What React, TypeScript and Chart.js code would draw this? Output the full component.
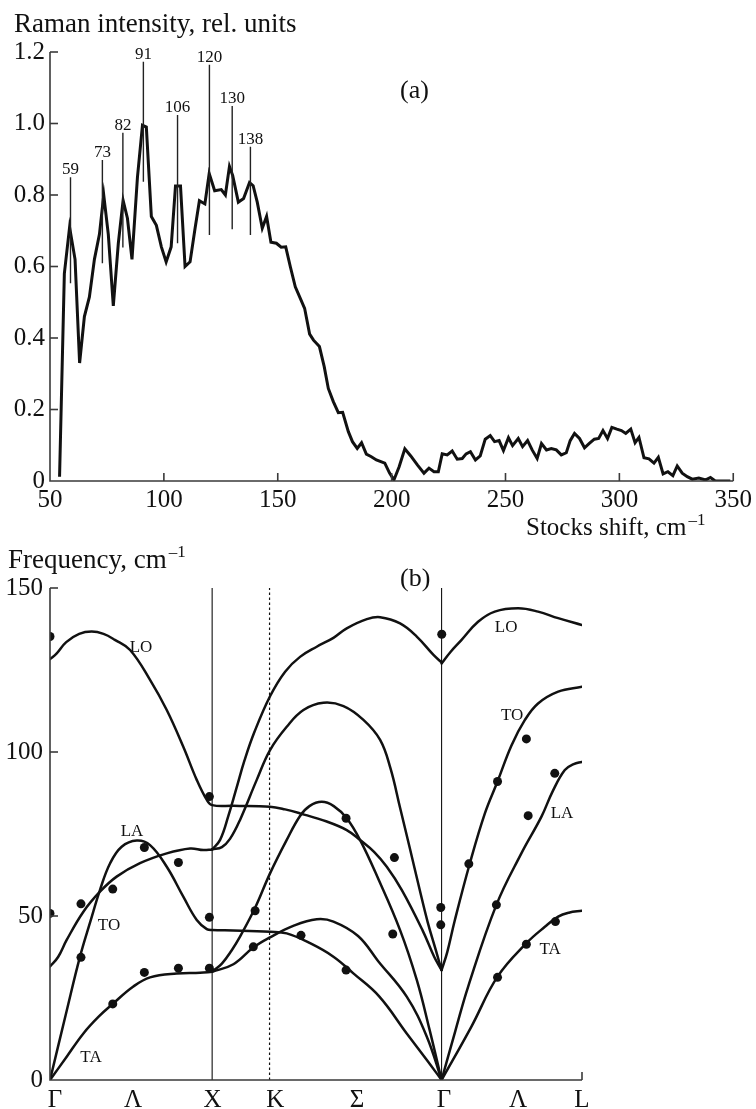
import React, { useEffect, useRef } from "react";
import { Chart, registerables } from "chart.js";
Chart.register(...registerables);

const FONT = "'Liberation Serif', 'Times New Roman', serif";
const INK = "#111";
const AXIS = "#3a3a3a";

// ---------- (a) Raman spectrum ----------
const ramanShift = [
  54.2, 56.3, 58.6, 61.0, 63.0, 65.1, 67.3, 69.5, 71.7, 73.6, 75.6, 77.8, 80.0, 82.1, 84.0, 86.0, 88.4, 90.6,
  92.3, 94.5, 96.7, 98.9, 101.0, 103.2, 105.1, 107.3, 109.3, 111.5, 113.7, 115.6, 118.0, 119.9, 122.3, 125.2,
  127.0, 128.8, 130.2, 132.7, 135.0, 137.6, 139.2, 141.0, 143.2, 145.1, 147.0, 149.4, 151.5, 153.5, 155.5,
  157.7, 159.9, 161.8, 164.0, 165.7, 168.3, 170.4, 172.2, 174.4, 176.6, 178.5, 181.0, 182.8, 184.9, 186.8,
  188.9, 191.1, 193.3, 197.0, 199.1, 201.0, 203.3, 205.8, 208.4, 211.3, 214.2, 216.4, 218.6, 220.5, 222.2,
  224.4, 226.6, 228.8, 231.0, 232.7, 234.6, 236.8, 238.9, 241.1, 243.3, 245.2, 247.2, 249.1, 251.3, 253.1,
  255.6, 257.5, 259.7, 261.7, 263.9, 265.8, 268.0, 270.1, 272.3, 274.5, 276.7, 278.4, 280.3, 282.5, 284.7,
  286.8, 289.0, 290.9, 292.8, 294.8, 296.7, 298.9, 300.9, 302.8, 305.0, 306.9, 308.6, 310.8, 313.0, 315.2,
  317.1, 319.2, 321.3, 323.5, 325.4, 327.6, 329.8, 332.0, 334.9, 337.9, 340.0, 342.1, 348.7,
];
const ramanIntensity = [
  0.012, 0.58, 0.71, 0.62, 0.33, 0.46, 0.515, 0.62, 0.69, 0.8, 0.69, 0.49, 0.665, 0.785, 0.735, 0.62, 0.85, 0.995,
  0.99, 0.74, 0.715, 0.655, 0.613, 0.655, 0.825, 0.825, 0.6, 0.613, 0.707, 0.784, 0.775, 0.86, 0.812, 0.815,
  0.8, 0.88, 0.855, 0.78, 0.79, 0.835, 0.826, 0.78, 0.707, 0.74, 0.668, 0.665, 0.654, 0.655, 0.6,
  0.543, 0.511, 0.483, 0.411, 0.394, 0.376, 0.32, 0.259, 0.222, 0.191, 0.192, 0.138, 0.11, 0.091, 0.107,
  0.075, 0.068, 0.059, 0.05, 0.022, 0.003, 0.04, 0.09, 0.07, 0.045, 0.022, 0.036, 0.026, 0.026, 0.076,
  0.073, 0.084, 0.061, 0.063, 0.076, 0.082, 0.059, 0.07, 0.117, 0.127, 0.11, 0.113, 0.085, 0.121, 0.099,
  0.119, 0.096, 0.113, 0.087, 0.063, 0.105, 0.087, 0.091, 0.087, 0.073, 0.079, 0.113, 0.133, 0.119, 0.093,
  0.105, 0.117, 0.119, 0.141, 0.119, 0.15, 0.145, 0.141, 0.133, 0.145, 0.107, 0.122, 0.065, 0.062, 0.05,
  0.066, 0.02, 0.026, 0.015, 0.042, 0.022, 0.012, 0.005, 0.008, 0.003, 0.01, 0.0, 0.0,
];
const peakShifts = [59, 73, 82, 91, 106, 120, 130, 138];
const peakLineTop = [0.85, 0.898, 0.974, 1.173, 1.024, 1.164, 1.049, 0.935];
const peakLineBottom = [0.553, 0.609, 0.653, 0.837, 0.665, 0.688, 0.704, 0.688];
const shiftTicks = [50, 100, 150, 200, 250, 300, 350];
const intensityTicks = [0, 0.2, 0.4, 0.6, 0.8, 1.0, 1.2];

// ---------- (b) phonon dispersion ----------
const symLinePositions = [1, 1.354, 2.415]; // X, K, Γ
const symLineDashed = [false, true, false];
const symTickPositions = [0.03, 0.512, 1.003, 1.39, 1.894, 2.43, 2.887, 3.281];
const symTickLabels = ["Γ", "Λ", "X", "K", "Σ", "Γ", "Λ", "L"];
const freqTicks = [0, 50, 100, 150];
const pathEnd = 3.281;

// Γ–X–K–Γ–L branches, [reduced wave vector, frequency cm-1]
const branchLoFlat = [
  [0, 128.3], [0.04, 130], [0.1, 133.5], [0.18, 136], [0.257, 136.7], [0.33, 136], [0.4, 134.2], [0.494, 131.1],
  [0.617, 122], [0.72, 112.8], [0.822, 101.6], [0.905, 91.5], [0.967, 85.4], [1, 83.8], [1.131, 83.6],
  [1.357, 83.3], [1.45, 82.5], [1.542, 81.3], [1.707, 78.8], [1.83, 76.2], [1.912, 73.2], [2.0, 69.5],
  [2.077, 65], [2.17, 57.9], [2.297, 45.7], [2.37, 37.5], [2.415, 33.5],
];
const branchToGX = [
  [0, 34.6], [0.05, 37.5], [0.103, 42.7], [0.206, 51.3], [0.308, 57.4], [0.411, 62], [0.555, 66.1],
  [0.72, 69.1], [0.864, 70.6], [0.946, 70.1], [1, 70.3],
];
const branchLaFlat = [
  [0, 0], [0.1, 20.5], [0.185, 37.6], [0.25, 48.5], [0.308, 57.9], [0.37, 66], [0.442, 71.1], [0.535, 73],
  [0.617, 71.6], [0.72, 65], [0.822, 55.9], [0.905, 48.8], [0.967, 46], [1, 45.7], [1.131, 45.6], [1.357, 45.2],
  [1.46, 44.7], [1.604, 41.7], [1.748, 37.6], [1.871, 32.5], [2.03, 25.5], [2.2, 14.2], [2.324, 6.1], [2.415, 0],
];
const branchTaGX = [
  [0, 0], [0.103, 7.1], [0.206, 14.2], [0.3, 19.3], [0.387, 23.2], [0.514, 28.5], [0.617, 31.3], [0.781, 32.5],
  [0.925, 32.7], [1, 33],
];
const branchLoXG = [
  [1, 70.3], [1.049, 73.2], [1.1, 80.5], [1.15, 89], [1.2, 97.5], [1.26, 106], [1.357, 117], [1.45, 124.5],
  [1.542, 129], [1.645, 132.1], [1.748, 134.8], [1.83, 137.7], [1.954, 140.5], [2.036, 141.1], [2.159, 139.2],
  [2.262, 135.2], [2.365, 129.6], [2.415, 127.3],
];
const branchToXG = [
  [1, 70.3], [1.06, 71], [1.11, 73.5], [1.172, 79.3], [1.275, 91.5], [1.357, 100.6], [1.46, 107.7],
  [1.563, 112.8], [1.686, 115], [1.81, 114], [1.933, 109.8], [2.036, 103.7], [2.1, 95], [2.159, 83],
  [2.22, 70.5], [2.28, 58], [2.33, 48], [2.38, 39.5], [2.415, 33.5],
];
const branchLaXG = [
  [1, 33], [1.06, 35.5], [1.12, 39.5], [1.172, 43.7], [1.265, 52.5], [1.357, 63], [1.46, 73.2], [1.542, 80.5],
  [1.6, 83.5], [1.676, 84.8], [1.75, 83.5], [1.83, 79.8], [1.912, 73.2], [2.023, 61.5], [2.159, 45.7],
  [2.262, 30.5], [2.34, 15.5], [2.415, 0],
];
const branchTaXG = [
  [1, 33], [1.131, 35.3], [1.254, 40.4], [1.357, 43.5], [1.5, 47], [1.645, 49], [1.748, 48.3], [1.9, 43.9],
  [2.023, 36.3], [2.2, 25.4], [2.324, 13.2], [2.415, 0],
];
const branchLoGL = [
  [2.415, 127], [2.47, 130.5], [2.537, 134.1], [2.64, 139.7], [2.743, 142.8], [2.887, 143.8], [3.01, 142.8],
  [3.134, 140.8], [3.281, 138.7],
];
const branchToGL = [
  [2.415, 33.5], [2.45, 39], [2.497, 48.8], [2.589, 66], [2.682, 81.3], [2.76, 91], [2.846, 102], [2.928, 109.7],
  [3.01, 114.8], [3.134, 118.4], [3.281, 119.9],
];
const branchLaGL = [
  [2.415, 0], [2.5, 15], [2.579, 28.5], [2.753, 53.4], [2.907, 69.1], [3.031, 80.3], [3.1, 88], [3.175, 94.5],
  [3.23, 96.3], [3.281, 97],
];
const branchTaGL = [
  [2.415, 0], [2.599, 16.3], [2.76, 31.5], [2.938, 41.7], [3.052, 46.7], [3.134, 49.8], [3.2, 51], [3.281, 51.6],
];
const experimentK = [
  0, 0, 0.191, 0.191, 0.387, 0.387, 0.582, 0.582, 0.792, 0.792, 0.983, 0.983, 0.983, 1.265, 1.254, 1.548,
  1.826, 1.826, 2.124, 2.114, 2.416, 2.41, 2.41, 2.583, 2.76, 2.938, 2.949, 3.113, 2.753, 2.938, 2.76, 3.117,
];
const experimentFreq = [
  135.2, 50.8, 53.7, 37.4, 58.2, 23.2, 70.9, 32.8, 66.3, 34.1, 86.4, 49.6, 34.1, 51.6, 40.6, 44.1,
  79.8, 33.5, 67.8, 44.5, 135.9, 52.6, 47.3, 65.9, 91, 104, 80.6, 93.5, 53.4, 41.4, 31.3, 48.3,
];
const branchLabelText = ["LO", "LA", "TO", "TA", "LO", "TO", "LA", "TA"];
const branchLabelK = [0.561, 0.506, 0.364, 0.253, 2.813, 2.85, 3.158, 3.085];
const branchLabelFreq = [131.7, 75.9, 47, 6.7, 137.8, 111, 81.1, 39.9];

const toPts = (a: number[][]) => a.map(([x, y]) => ({ x, y }));

function drawSup(ctx: CanvasRenderingContext2D, main: string, sup: string, x: number, y: number, size: number, supSize: number) {
  ctx.font = `${size}px ${FONT}`;
  ctx.textAlign = "left";
  ctx.textBaseline = "alphabetic";
  ctx.fillText(main, x, y);
  const w = ctx.measureText(main).width;
  ctx.font = `${supSize}px ${FONT}`;
  ctx.fillText(sup, x + w + 2, y - size * 0.42);
}

function line(ctx: CanvasRenderingContext2D, x0: number, y0: number, x1: number, y1: number) {
  ctx.beginPath();
  ctx.moveTo(x0, y0);
  ctx.lineTo(x1, y1);
  ctx.stroke();
}

export default function App() {
  const topRef = useRef<HTMLCanvasElement>(null);
  const botRef = useRef<HTMLCanvasElement>(null);

  useEffect(() => {
    Chart.defaults.font.family = FONT;
    Chart.defaults.color = INK;

    const spectrum = ramanShift.map((x, i) => ({ x, y: ramanIntensity[i] }));
    const markerSets = peakShifts.map((p, i) => ({
      type: "line" as const,
      data: [{ x: p, y: peakLineBottom[i] }, { x: p, y: peakLineTop[i] }],
      borderColor: "#222",
      borderWidth: 1.4,
      pointRadius: 0,
      tension: 0,
    }));

    const topOverlay = {
      id: "topOverlay",
      afterDraw(chart: any) {
        const ctx: CanvasRenderingContext2D = chart.ctx;
        const xs = chart.scales.x, ys = chart.scales.y;
        ctx.save();
        ctx.strokeStyle = AXIS;
        ctx.lineWidth = 1.6;
        const x0 = xs.getPixelForValue(shiftTicks[0]);
        const x1 = xs.getPixelForValue(shiftTicks[shiftTicks.length - 1]);
        const y0 = ys.getPixelForValue(intensityTicks[0]);
        const y1 = ys.getPixelForValue(intensityTicks[intensityTicks.length - 1]);
        ctx.beginPath();
        ctx.moveTo(x0, y1);
        ctx.lineTo(x0, y0);
        ctx.lineTo(x1, y0);
        ctx.stroke();
        intensityTicks.slice(1).forEach((v) => {
          const y = ys.getPixelForValue(v);
          line(ctx, x0, y, x0 + 8, y);
        });
        shiftTicks.slice(1).forEach((v) => {
          const x = xs.getPixelForValue(v);
          line(ctx, x, y0, x, y0 - 8);
        });
        ctx.fillStyle = INK;
        ctx.font = `17px ${FONT}`;
        ctx.textAlign = "center";
        ctx.textBaseline = "alphabetic";
        peakShifts.forEach((p, i) => {
          ctx.fillText(String(p), xs.getPixelForValue(p), ys.getPixelForValue(peakLineTop[i]) - 3);
        });
        ctx.textAlign = "left";
        ctx.font = `27px ${FONT}`;
        ctx.fillText("Raman intensity, rel. units", 14, 32);
        ctx.font = `26px ${FONT}`;
        ctx.fillText("(a)", 400, 98);
        drawSup(ctx, "Stocks shift, cm", "–1", 526, 535, 25, 17);
        ctx.restore();
      },
    };

    const top = new Chart(topRef.current!, {
      type: "line",
      data: {
        datasets: [
          ...markerSets,
          {
            type: "line",
            data: spectrum,
            borderColor: INK,
            borderWidth: 3,
            pointRadius: 0,
            tension: 0,
          },
        ] as any,
      },
      options: {
        responsive: false,
        animation: false,
        devicePixelRatio: 1,
        layout: { padding: { top: 52, right: 20, left: 0, bottom: 0 } },
        plugins: { legend: { display: false }, tooltip: { enabled: false } },
        scales: {
          x: {
            type: "linear",
            min: 50,
            max: 350,
            afterFit: (s: any) => { s.height = 64; },
            grid: { display: false, drawTicks: false },
            border: { display: false },
            ticks: { stepSize: 50, padding: 4, font: { size: 25 }, color: INK, maxRotation: 0 },
          },
          y: {
            type: "linear",
            min: 0,
            max: 1.2,
            afterFit: (s: any) => { s.width = 50; },
            grid: { display: false, drawTicks: false },
            border: { display: false },
            ticks: {
              stepSize: 0.2,
              padding: 5,
              font: { size: 25 },
              color: INK,
              callback: (v: any) => (Number(v) === 0 ? "0" : Number(v).toFixed(1)),
            },
          },
        },
      },
      plugins: [topOverlay],
    });

    const curveStyle = {
      type: "line" as const,
      borderColor: INK,
      borderWidth: 2.5,
      pointRadius: 0,
      tension: 0.4,
      borderCapStyle: "round" as const,
      fill: false,
    };
    const branches = [
      branchLoFlat, branchToGX, branchLaFlat, branchTaGX, branchLoXG, branchToXG, branchLaXG, branchTaXG,
      branchLoGL, branchToGL, branchLaGL, branchTaGL,
    ];
    const vlines = symLinePositions.map((k, i) => ({
      type: "line" as const,
      data: [{ x: k, y: freqTicks[0] }, { x: k, y: freqTicks[freqTicks.length - 1] }],
      borderColor: INK,
      borderWidth: symLineDashed[i] ? 1.2 : 1.1,
      borderDash: symLineDashed[i] ? [2.5, 2.5] : [],
      pointRadius: 0,
      tension: 0,
    }));

    const botOverlay = {
      id: "botOverlay",
      afterDraw(chart: any) {
        const ctx: CanvasRenderingContext2D = chart.ctx;
        const xs = chart.scales.x, ys = chart.scales.y;
        ctx.save();
        ctx.strokeStyle = AXIS;
        ctx.lineWidth = 1.6;
        const x0 = xs.getPixelForValue(0);
        const x1 = xs.getPixelForValue(pathEnd);
        const y0 = ys.getPixelForValue(freqTicks[0]);
        const y1 = ys.getPixelForValue(freqTicks[freqTicks.length - 1]);
        ctx.beginPath();
        ctx.moveTo(x0, y1);
        ctx.lineTo(x0, y0);
        ctx.lineTo(x1, y0);
        ctx.stroke();
        freqTicks.slice(1).forEach((v) => {
          const y = ys.getPixelForValue(v);
          line(ctx, x0, y, x0 + 8, y);
        });
        line(ctx, x1, y0, x1, y0 - 8);
        ctx.fillStyle = INK;
        ctx.font = `17px ${FONT}`;
        ctx.textAlign = "center";
        ctx.textBaseline = "middle";
        branchLabelText.forEach((t, i) => {
          ctx.fillText(t, xs.getPixelForValue(branchLabelK[i]), ys.getPixelForValue(branchLabelFreq[i]));
        });
        ctx.textBaseline = "alphabetic";
        drawSup(ctx, "Frequency, cm", "–1", 8, 23, 27, 17);
        ctx.font = `26px ${FONT}`;
        ctx.textAlign = "left";
        ctx.fillText("(b)", 400, 41);
        ctx.restore();
      },
    };

    const bot = new Chart(botRef.current!, {
      type: "line",
      data: {
        datasets: [
          ...vlines,
          ...branches.map((b) => ({ ...curveStyle, data: toPts(b) })),
          {
            type: "scatter",
            data: experimentK.map((x, i) => ({ x, y: experimentFreq[i] })),
            backgroundColor: INK,
            borderColor: INK,
            pointRadius: 4.5,
            pointBorderWidth: 0,
            showLine: false,
          },
        ] as any,
      },
      options: {
        responsive: false,
        animation: false,
        devicePixelRatio: 1,
        layout: { padding: { top: 43, right: 174, left: 0, bottom: 0 } },
        plugins: { legend: { display: false }, tooltip: { enabled: false } },
        scales: {
          x: {
            type: "linear",
            min: 0,
            max: pathEnd,
            afterFit: (s: any) => { s.height = 29; },
            afterBuildTicks: (s: any) => { s.ticks = symTickPositions.map((v) => ({ value: v })); },
            grid: { display: false, drawTicks: false },
            border: { display: false },
            ticks: {
              padding: 5,
              autoSkip: false,
              maxRotation: 0,
              font: { size: 25 },
              color: INK,
              callback: (_v: any, i: number) => symTickLabels[i],
            },
          },
          y: {
            type: "linear",
            min: 0,
            max: 150,
            afterFit: (s: any) => { s.width = 50; },
            grid: { display: false, drawTicks: false },
            border: { display: false },
            ticks: { stepSize: 50, padding: 7, font: { size: 25 }, color: INK },
          },
        },
      },
      plugins: [botOverlay],
    });

    return () => {
      top.destroy();
      bot.destroy();
    };
  }, []);

  return (
    <div style={{ position: "absolute", left: 0, top: 0, width: 756, height: 1109, background: "#fff" }}>
      <canvas ref={topRef} width={756} height={545} style={{ position: "absolute", left: 0, top: 0, width: 756, height: 545 }} />
      <canvas ref={botRef} width={756} height={564} style={{ position: "absolute", left: 0, top: 545, width: 756, height: 564 }} />
    </div>
  );
}
